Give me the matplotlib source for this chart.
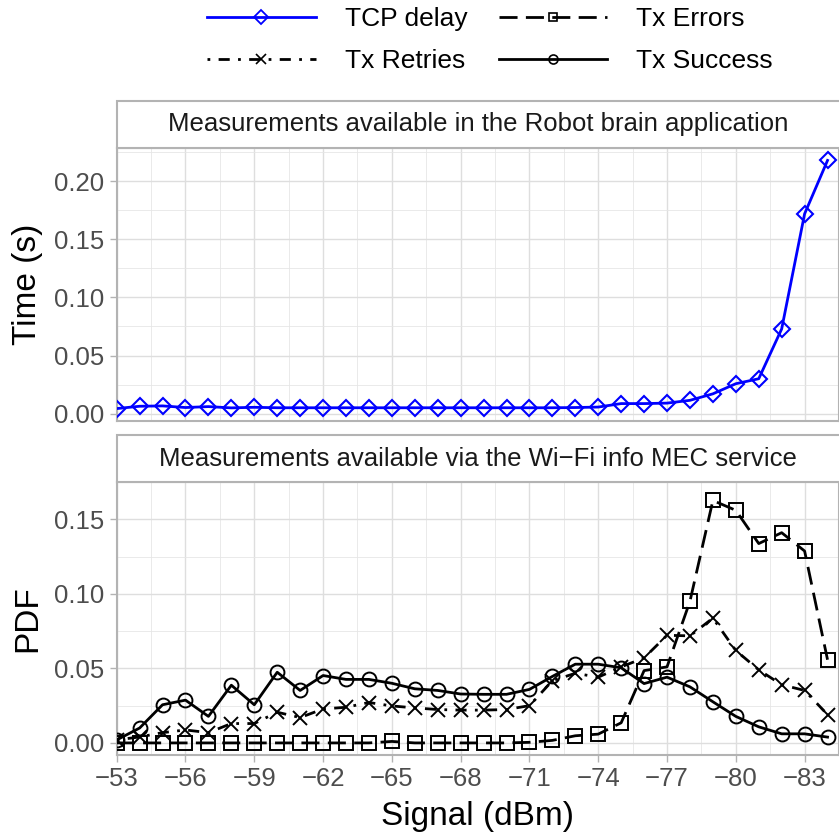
import matplotlib
matplotlib.use("Agg")
import matplotlib.pyplot as plt
from matplotlib.lines import Line2D
from matplotlib.patches import Rectangle
import numpy as np

plt.rcParams['font.family'] = ['Liberation Sans', 'DejaVu Sans']

signal = [-53, -54, -55, -56, -57, -58, -59, -60, -61, -62, -63, -64, -65, -66, -67, -68,
          -69, -70, -71, -72, -73, -74, -75, -76, -77, -78, -79, -80, -81, -82, -83, -84]

tcp_delay = [0.0043, 0.0063, 0.0066, 0.0052, 0.0060, 0.0049, 0.0054, 0.0050, 0.0050, 0.0050,
             0.0050, 0.0050, 0.0050, 0.0050, 0.0050, 0.0050, 0.0050, 0.0050, 0.0050, 0.0050,
             0.0052, 0.0056, 0.0086, 0.0086, 0.0090, 0.0114, 0.0170, 0.0257, 0.0300, 0.0729,
             0.1720, 0.2180]

tx_errors = [0.0, 0.0, 0.0, 0.0, 0.0, 0.0, 0.0, 0.0, 0.0, 0.0, 0.0, 0.0, 0.0010, 0.0, 0.0,
             0.0, 0.0, 0.0, 0.0004, 0.0017, 0.0048, 0.0059, 0.0135, 0.0485, 0.0510, 0.0950,
             0.1626, 0.1560, 0.1337, 0.1410, 0.1287, 0.0558]

tx_retries = [0.0020, 0.0040, 0.0069, 0.0087, 0.0069, 0.0130, 0.0130, 0.0206, 0.0170, 0.0228,
              0.0239, 0.0271, 0.0248, 0.0235, 0.0224, 0.0220, 0.0220, 0.0224, 0.0250, 0.0417,
              0.0467, 0.0441, 0.0510, 0.0570, 0.0722, 0.0718, 0.0837, 0.0620, 0.0490, 0.0390,
              0.0352, 0.0190]

tx_success = [0.0020, 0.0100, 0.0256, 0.0287, 0.0178, 0.0387, 0.0256, 0.0474, 0.0352, 0.0452,
              0.0426, 0.0426, 0.0400, 0.0363, 0.0352, 0.0328, 0.0326, 0.0326, 0.0359, 0.0446,
              0.0528, 0.0528, 0.0504, 0.0398, 0.0441, 0.0376, 0.0276, 0.0178, 0.0108, 0.0061,
              0.0061, 0.0039]

x_ticks = [-53, -56, -59, -62, -65, -68, -71, -74, -77, -80, -83]
top_yticks = [0.00, 0.05, 0.10, 0.15, 0.20]
bot_yticks = [0.00, 0.05, 0.10, 0.15]

strip_top = "Measurements available in the Robot brain application"
strip_bot = "Measurements available via the Wi\u2212Fi info MEC service"

W, H = 839, 834
fig = plt.figure(figsize=(W / 100, H / 100), dpi=100)

def fx(px):
    return px / W

def fy(py):
    return 1 - py / H

left = fx(116.7)
width = 1.0 - left
ax1 = fig.add_axes([left, fy(421), width, fy(148) - fy(421)])
ax2 = fig.add_axes([left, fy(755), width, fy(482) - fy(755)])

border = '#b3b3b3'
grid_c = '#dedede'
tick_c = '#4d4d4d'

def style(ax, yticks, ylim, ylabel):
    ax.set_xlim(-53, -84)
    ax.set_ylim(*ylim)
    ax.set_xticks(x_ticks)
    ax.set_xticks([t - 1.5 for t in x_ticks], minor=True)
    ax.set_yticks(yticks)
    ax.set_yticks([t + 0.025 for t in yticks], minor=True)
    ax.set_yticklabels([f"{t:.2f}" for t in yticks])
    ax.grid(True, which='major', color=grid_c, linewidth=1.0, zorder=0)
    ax.grid(True, which='minor', color='#e6e6e6', linewidth=0.6, zorder=0)
    ax.set_axisbelow(True)
    for s in ax.spines.values():
        s.set_color(border)
        s.set_linewidth(1.5)
    ax.tick_params(which='major', length=5, width=1.0, color=border,
                   labelsize=18.5, labelcolor=tick_c, pad=4)
    ax.tick_params(which='minor', length=0)
    ax.set_ylabel(ylabel, fontsize=24)
    ax.yaxis.set_label_coords((43 - 116.7) / (W - 116.7), 0.5)

style(ax1, top_yticks, (-0.0064, 0.2287), "Time (s)")
style(ax2, bot_yticks, (-0.0081, 0.1707), "PDF")
ax1.tick_params(axis='x', labelbottom=False, length=0)
ax2.set_xlabel("Signal (dBm)", fontsize=24, labelpad=7)

lw = 2.0
ax1.plot(signal, tcp_delay, color='#0000ff', lw=lw, marker='D', markersize=8.5,
         markerfacecolor='none', markeredgecolor='#0000ff', markeredgewidth=1.5,
         label='TCP delay', zorder=3)
ax2.plot(signal, tx_errors, color='black', lw=lw, dashes=(6.5, 3), marker='s', markersize=9.5,
         markerfacecolor='none', markeredgewidth=1.4, label='Tx Errors', zorder=3)
ax2.plot(signal, tx_retries, color='black', lw=lw, dashes=(1, 3, 4, 3), marker='x', markersize=10.5,
         markeredgewidth=1.4, label='Tx Retries', zorder=3)
ax2.plot(signal, tx_success, color='black', lw=lw, marker='o', markersize=10,
         markerfacecolor='none', markeredgewidth=1.4, label='Tx Success', zorder=3)

# strips
for (ytop, ybot, txt) in [(101, 148, strip_top), (435, 482, strip_bot)]:
    r = Rectangle((left, fy(ybot)), width + 0.01, fy(ytop) - fy(ybot), transform=fig.transFigure,
                  facecolor='white', edgecolor=border, linewidth=1.5)
    fig.patches.append(r)
    fig.text((left + 1.0) / 2, (fy(ytop) + fy(ybot)) / 2, txt, ha='center', va='center',
             fontsize=18.5, color='#1a1a1a')

handles = [
    Line2D([], [], color='#0000ff', lw=lw, marker='D', markersize=7.5, markerfacecolor='none',
           markeredgecolor='#0000ff', markeredgewidth=1.3),
    Line2D([], [], color='black', lw=lw, dashes=(1, 3, 4, 3), marker='x', markersize=7,
           markeredgewidth=1.2),
    Line2D([], [], color='black', lw=lw, dashes=(6.5, 3), marker='s', markersize=6,
           markerfacecolor='none', markeredgewidth=1.2),
    Line2D([], [], color='black', lw=lw, marker='o', markersize=6.5, markerfacecolor='none',
           markeredgewidth=1.2),
]
labels = ['TCP delay', 'Tx Retries', 'Tx Errors', 'Tx Success']
fig.legend(handles, labels, loc='center', bbox_to_anchor=(fx(490), fy(40)), ncol=2,
           frameon=False, fontsize=19, handlelength=4.1, handletextpad=1.1,
           columnspacing=1.2, labelspacing=0.7, numpoints=1)

fig.savefig("out.png", dpi=100)
